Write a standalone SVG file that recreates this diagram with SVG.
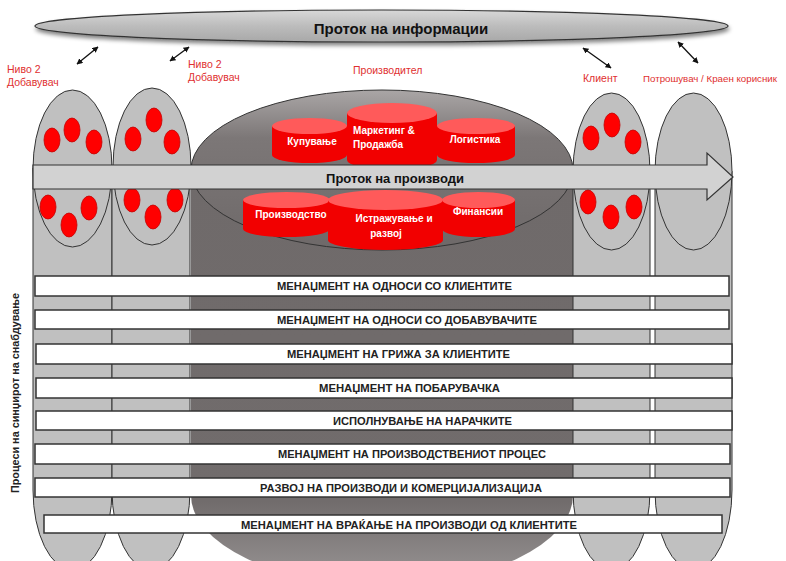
<svg xmlns="http://www.w3.org/2000/svg" width="786" height="561" viewBox="0 0 786 561">
<defs>
<style>
.lbl{font-family:"Liberation Sans",Arial,sans-serif;font-size:10.5px;fill:#e03030}
.col{fill:#c0c0c0;stroke:#333;stroke-width:1}
.dot{fill:#ff0000;stroke:#c40000;stroke-width:0.8}
.rb{fill:#f20000}
.rt{fill:#ff5a5a}
.ct{font-family:"Liberation Sans",Arial,sans-serif;font-size:10px;fill:#fff;font-weight:bold}
.bar{fill:#fff;stroke:#333;stroke-width:1.5}
.bt{font-family:"Liberation Sans",Arial,sans-serif;font-size:10.5px;font-weight:bold;fill:#222}
.arr{stroke:#111;stroke-width:1.3;fill:none;marker-start:url(#ah);marker-end:url(#ah)}
</style>
<marker id="ah" viewBox="0 0 10 10" refX="9" refY="5" markerWidth="6" markerHeight="6" orient="auto-start-reverse" markerUnits="userSpaceOnUse">
<path d="M0,0 L10,5 L0,10 Z" fill="#111"/>
</marker>
<linearGradient id="topg" x1="0" y1="0" x2="0" y2="1">
<stop offset="0" stop-color="#d8d8d8"/>
<stop offset="0.5" stop-color="#bcbcbc"/>
<stop offset="1" stop-color="#a8a8a8"/>
</linearGradient>
<linearGradient id="cylTop" x1="0" y1="0" x2="0" y2="1">
<stop offset="0" stop-color="#aaa6a6"/>
<stop offset="0.3" stop-color="#7c7777"/>
<stop offset="1" stop-color="#6e6969"/>
</linearGradient>
<linearGradient id="cylBody" x1="0" y1="0" x2="0" y2="1">
<stop offset="0" stop-color="#6f6a6a"/>
<stop offset="0.8" stop-color="#716c6c"/>
<stop offset="1" stop-color="#9a9696"/>
</linearGradient>
<filter id="shadow" x="-5%" y="-50%" width="110%" height="220%">
<feGaussianBlur in="SourceAlpha" stdDeviation="2"/>
<feOffset dx="1" dy="3" result="b"/>
<feComponentTransfer><feFuncA type="linear" slope="0.5"/></feComponentTransfer>
<feMerge><feMergeNode/><feMergeNode in="SourceGraphic"/></feMerge>
</filter>
</defs>
<rect width="786" height="561" fill="#fff"/>

<!-- Manufacturer cylinder -->
<g id="manufacturer">
<path d="M191,170 L573,170 L573,495 A191,90 0 0 1 191,495 Z" fill="url(#cylBody)"/>
<ellipse cx="382" cy="170" rx="191" ry="80" fill="url(#cylTop)" stroke="#333" stroke-width="1"/>
</g>

<!-- Columns -->
<g id="col1">
<path class="col" d="M33,168 L33,490 A39.5,80 0 0 0 112,490 L112,168 Z"/>
<ellipse class="col" cx="72.5" cy="168.5" rx="39.5" ry="78.5"/>
<ellipse class="dot" cx="52" cy="140" rx="8" ry="12"/>
<ellipse class="dot" cx="72" cy="130" rx="8" ry="12"/>
<ellipse class="dot" cx="94" cy="142" rx="8" ry="12"/>
<ellipse class="dot" cx="48" cy="207" rx="8" ry="12"/>
<ellipse class="dot" cx="69" cy="225" rx="8" ry="12"/>
<ellipse class="dot" cx="89" cy="208" rx="8" ry="12"/>
</g>
<g id="col2">
<path class="col" d="M112,166 L112,490 A39,80 0 0 0 190,490 L190,166 Z"/>
<ellipse class="col" cx="152" cy="166.5" rx="39" ry="78.5"/>
<ellipse class="dot" cx="133" cy="139" rx="8" ry="12"/>
<ellipse class="dot" cx="154" cy="120" rx="8" ry="12"/>
<ellipse class="dot" cx="172" cy="142" rx="8" ry="12"/>
<ellipse class="dot" cx="132" cy="200" rx="8" ry="12"/>
<ellipse class="dot" cx="153" cy="217" rx="8" ry="12"/>
<ellipse class="dot" cx="175" cy="200" rx="8" ry="12"/>
</g>
<g id="col3">
<path class="col" d="M573,171 L573,490 A38.5,80 0 0 0 650,490 L650,171 Z"/>
<ellipse class="col" cx="611.5" cy="171.5" rx="38.5" ry="78.5"/>
<ellipse class="dot" cx="591" cy="138" rx="8" ry="12"/>
<ellipse class="dot" cx="612" cy="125" rx="8" ry="12"/>
<ellipse class="dot" cx="633" cy="142" rx="8" ry="12"/>
<ellipse class="dot" cx="588" cy="202" rx="8" ry="12"/>
<ellipse class="dot" cx="611" cy="217" rx="8" ry="12"/>
<ellipse class="dot" cx="634" cy="207" rx="8" ry="12"/>
</g>
<g id="col4">
<path class="col" d="M655,171 L655,490 A38.5,80 0 0 0 732,490 L732,171 Z"/>
<ellipse class="col" cx="693.5" cy="171.5" rx="38.5" ry="78.5"/>
</g>

<!-- Red function cylinders -->
<g id="kupuvanje">
<path class="rb" d="M272,126 L272,155 A37.5,8 0 0 0 347,155 L347,126 Z"/>
<ellipse class="rt" cx="309.5" cy="126" rx="37.5" ry="8"/>
<text class="ct" x="312" y="145" text-anchor="middle">Купување</text>
</g>
<g id="logistika">
<path class="rb" d="M437,126 L437,155 A39,8 0 0 0 515,155 L515,126 Z"/>
<ellipse class="rt" cx="476" cy="126" rx="39" ry="8"/>
<text class="ct" x="475" y="143" text-anchor="middle">Логистика</text>
</g>
<g id="marketing">
<path class="rb" d="M347,113 L347,160 A45,10 0 0 0 437,160 L437,113 Z"/>
<ellipse class="rt" cx="392" cy="113" rx="45" ry="10"/>
<text class="ct" x="353" y="134">Маркетинг &amp;</text>
<text class="ct" x="353" y="148">Продажба</text>
</g>
<g id="proizvodstvo">
<path class="rb" d="M243,200 L243,229 A43.5,8 0 0 0 330,229 L330,200 Z"/>
<ellipse class="rt" cx="286.5" cy="200" rx="43.5" ry="8"/>
<text class="ct" x="291" y="218" text-anchor="middle">Производство</text>
</g>
<g id="finansii">
<path class="rb" d="M442,200 L442,229 A36.5,8 0 0 0 515,229 L515,200 Z"/>
<ellipse class="rt" cx="478.5" cy="200" rx="36.5" ry="8"/>
<text class="ct" x="478" y="215" text-anchor="middle">Финансии</text>
</g>
<g id="istrazuvanje">
<path class="rb" d="M328,200 L328,240 A57.5,10 0 0 0 443,240 L443,200 Z"/>
<ellipse class="rt" cx="385.5" cy="200" rx="57.5" ry="10"/>
<text class="ct" x="394" y="222" text-anchor="middle">Истражување и</text>
<text class="ct" x="386" y="237" text-anchor="middle">развој</text>
</g>

<!-- Product flow arrow -->
<g id="productflow">
<path d="M33,165 L707,165 L707,153 L733,177 L707,200 L707,189 L33,189 Z" fill="#d2d2d2" stroke="#333" stroke-width="1.2"/>
<text x="395" y="183" text-anchor="middle" font-family="'Liberation Sans',Arial,sans-serif" font-size="13px" font-weight="bold" fill="#111">Проток на производи</text>
</g>

<!-- Information flow -->
<g id="infoflow">
<ellipse cx="381.5" cy="26" rx="346.5" ry="16" fill="url(#topg)" stroke="#333" stroke-width="1.2" filter="url(#shadow)"/>
<text x="401" y="34" text-anchor="middle" font-family="'Liberation Sans',Arial,sans-serif" font-size="15px" font-weight="bold" fill="#111">Проток на информации</text>
</g>

<!-- Connectors -->
<g id="connectors">
<line class="arr" x1="77" y1="64" x2="98" y2="47"/>
<line class="arr" x1="170" y1="61" x2="189" y2="47"/>
<line class="arr" x1="583" y1="48" x2="611" y2="68"/>
<line class="arr" x1="678" y1="42" x2="698" y2="63"/>
</g>

<!-- Labels -->
<g id="labels">
<text class="lbl" x="7" y="73">Ниво 2</text>
<text class="lbl" x="7" y="86">Добавувач</text>
<text class="lbl" x="188" y="68">Ниво 2</text>
<text class="lbl" x="188" y="81">Добавувач</text>
<text class="lbl" x="353" y="74">Производител</text>
<text class="lbl" x="583" y="82">Клиент</text>
<text class="lbl" x="643" y="82" style="font-size:9.5px" textLength="134" lengthAdjust="spacingAndGlyphs">Потрошувач / Краен корисник</text>
</g>

<!-- Process bars -->
<g id="p1"><rect class="bar" x="35" y="276" width="694" height="20"/><text class="bt" x="277" y="290" textLength="235" lengthAdjust="spacingAndGlyphs">МЕНАЏМЕНТ НА ОДНОСИ СО КЛИЕНТИТЕ</text></g>
<g id="p2"><rect class="bar" x="35" y="310" width="694" height="19"/><text class="bt" x="277" y="324" textLength="260" lengthAdjust="spacingAndGlyphs">МЕНАЏМЕНТ НА ОДНОСИ СО ДОБАВУВАЧИТЕ</text></g>
<g id="p3"><rect class="bar" x="36" y="344" width="696" height="20"/><text class="bt" x="287" y="358" textLength="223" lengthAdjust="spacingAndGlyphs">МЕНАЏМЕНТ НА ГРИЖА ЗА КЛИЕНТИТЕ</text></g>
<g id="p4"><rect class="bar" x="36" y="378" width="696" height="20"/><text class="bt" x="319" y="392" textLength="181" lengthAdjust="spacingAndGlyphs">МЕНАЏМЕНТ НА ПОБАРУВАЧКА</text></g>
<g id="p5"><rect class="bar" x="36" y="411" width="696" height="19"/><text class="bt" x="333" y="425" textLength="179" lengthAdjust="spacingAndGlyphs">ИСПОЛНУВАЊЕ НА НАРАЧКИТЕ</text></g>
<g id="p6"><rect class="bar" x="35" y="444" width="695" height="20"/><text class="bt" x="278" y="458" textLength="268" lengthAdjust="spacingAndGlyphs">МЕНАЏМЕНТ НА ПРОИЗВОДСТВЕНИОТ ПРОЦЕС</text></g>
<g id="p7"><rect class="bar" x="35" y="478" width="695" height="19"/><text class="bt" x="260" y="492" textLength="282" lengthAdjust="spacingAndGlyphs">РАЗВОЈ НА ПРОИЗВОДИ И КОМЕРЦИЈАЛИЗАЦИЈА</text></g>
<g id="p8"><rect class="bar" x="44" y="515" width="678" height="18"/><text class="bt" x="241" y="528.5" textLength="336" lengthAdjust="spacingAndGlyphs">МЕНАЏМЕНТ НА ВРАЌАЊЕ НА ПРОИЗВОДИ ОД КЛИЕНТИТЕ</text></g>

<g id="sidelabel">
<text transform="translate(19,393) rotate(-90)" text-anchor="middle" font-family="'Liberation Sans',Arial,sans-serif" font-size="11px" font-weight="bold" fill="#222" textLength="200" lengthAdjust="spacingAndGlyphs">Процеси на синџирот на снабдување</text>
</g>
</svg>
